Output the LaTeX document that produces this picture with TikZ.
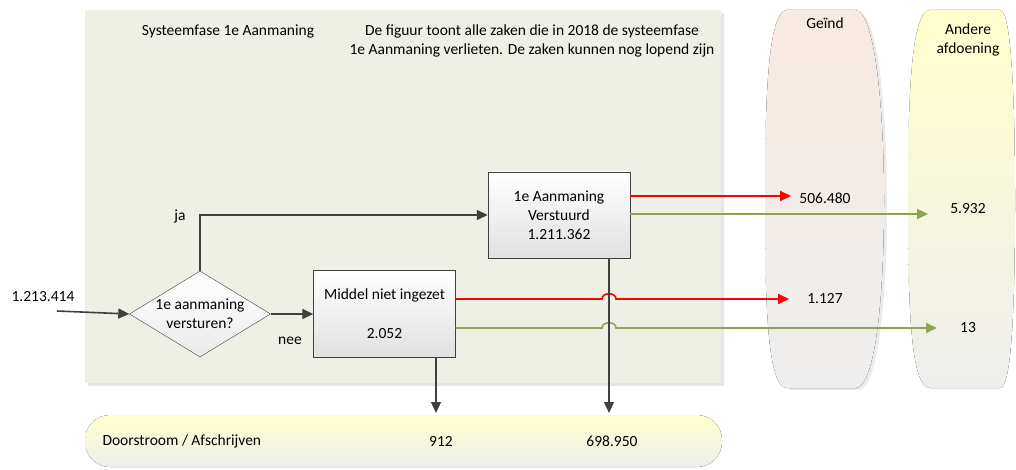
\documentclass[tikz,border=0pt]{standalone}
\usepackage{fontspec}
\setmainfont{Carlito}
\usetikzlibrary{shapes.geometric,arrows.meta,calc}
\definecolor{panelc}{RGB}{238,240,230}
\definecolor{pinkc}{RGB}{247,234,225}
\definecolor{geelc}{RGB}{255,255,204}
\definecolor{grijsc}{RGB}{238,238,238}
\definecolor{donker}{RGB}{64,64,64}
\definecolor{groen}{RGB}{140,163,80}
\begin{document}
\begin{tikzpicture}[x=1pt,y=-1pt,font=\fontsize{15.5}{19}\selectfont,
  box/.style={draw=donker,top color=white,bottom color=black!12,minimum width=142,minimum height=86,align=center},
  keuze/.style={diamond,shape aspect=1.64,draw=donker,top color=white,bottom color=black!8,minimum width=141,minimum height=86,inner sep=-3pt,align=center},
  arr/.style={draw=donker,line width=1.6,-{Triangle[length=11,width=10]}},
  rood/.style={arr,draw=red},
  grn/.style={arr,draw=groen}]
\useasboundingbox (0,0) rectangle (1016,470);
% achtergrond
\fill[black!10] (88,13) rectangle (724,386);
\fill[panelc] (85,10) rectangle (721,383);
\node at (228,32) {Systeemfase 1e Aanmaning};
\node[align=center] at (532,41) {De figuur toont alle zaken die in 2018 de systeemfase\\1e Aanmaning verlieten. De zaken kunnen nog lopend zijn};
% kolommen
\fill[black!8] (790,12) -- (858,12) .. controls (878,12) and (887,112) .. (887,202) .. controls (887,302) and (878,390) .. (858,390) -- (790,390) -- cycle;
\fill[top color=pinkc,middle color=pinkc,bottom color=grijsc] (787,10) -- (855,10) .. controls (875,10) and (884,110) .. (884,200) .. controls (884,300) and (875,388) .. (855,388) -- (787,388) .. controls (767,388) and (765,300) .. (765,200) .. controls (765,110) and (767,10) .. (787,10) -- cycle;
\fill[top color=geelc,middle color=geelc!50!grijsc,bottom color=grijsc] (930,10) -- (1000,10) .. controls (1012,10) and (1015,110) .. (1015,200) .. controls (1015,300) and (1012,388) .. (1000,388) -- (930,388) .. controls (910,388) and (908,300) .. (908,200) .. controls (908,110) and (910,10) .. (930,10) -- cycle;
\node at (825,23) {Geïnd};
\node[align=center] at (968,40) {Andere\\afdoening};
\fill[top color=geelc,bottom color=grijsc,rounded corners=25] (85,415) rectangle (722,467);
\node[anchor=west] at (99,441) {Doorstroom / Afschrijven};
\node (r1) at (441,441) {912};
\node (r2) at (612,441) {698.950};
% stappen
\node[keuze] (d) at (200,314) {1e aanmaning\\versturen?};
\node[box] (b1) at (559,215) {1e Aanmaning\\Verstuurd\\1.211.362};
\node[box,minimum height=87] (b2) at (384.5,313.5) {Middel niet ingezet\\[20pt]2.052};
\node (g1) at (825,198) {506.480};
\node (a1) at (968,209) {5.932};
\node (g2) at (825,299) {1.127};
\node (a2) at (968,328) {13};
\node at (43,297) {1.213.414};
\node at (180,216) {ja};
\node at (290,341) {nee};
\coordinate (in) at (57,311);
\coordinate (t1) at (791,196);
\coordinate (t2) at (928,214);
\coordinate (t3) at (789,299);
\coordinate (t4) at (937,328);
\coordinate (k1) at (609,413);
\coordinate (k2) at (436,413);
% pijlen
\draw[arr] (in) -- (d.west);
\draw[arr] (d.north) |- (b1.west);
\draw[arr] (d.east) -- (d.east -| b2.west);
\draw[rood] (b1.east |- t1) -- (t1);
\draw[grn] (b1.east |- t2) -- (t2);
\draw[rood] (b2.east |- t3) -- ($(k1 |- t3)+(-7,0)$) .. controls +(0,-7) and +(0,-7) .. ($(k1 |- t3)+(7,0)$) -- (t3);
\draw[grn] (b2.east |- t4) -- ($(k1 |- t4)+(-7,0)$) .. controls +(0,-7) and +(0,-7) .. ($(k1 |- t4)+(7,0)$) -- (t4);
\draw[arr,line width=1.2] (b1.south -| k1) -- (k1);
\draw[arr,line width=1.2] (b2.south -| k2) -- (k2);
\end{tikzpicture}
\end{document}
